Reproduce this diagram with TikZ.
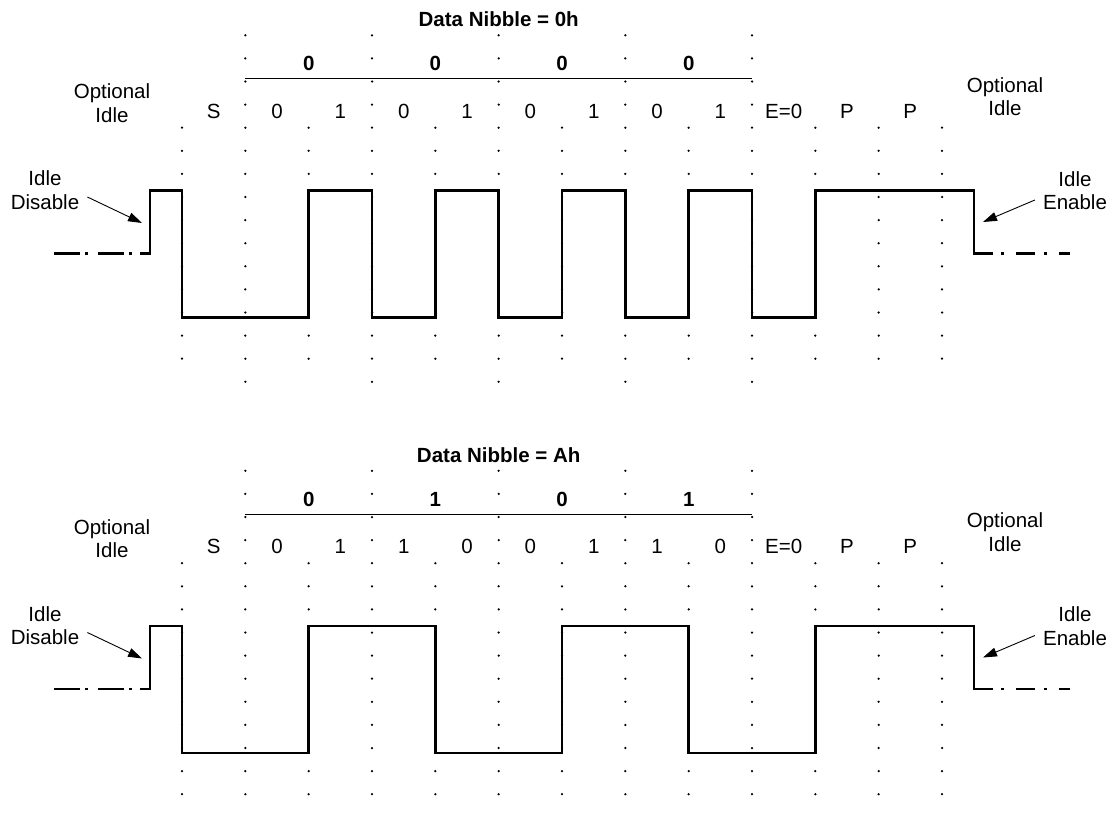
\documentclass[tikz,border=0pt]{standalone}
\usepackage{fontspec}
\setmainfont{Liberation Sans}
\usetikzlibrary{arrows.meta,calc}
\tikzset{
  sig/.style={line width=2.5pt, line join=miter},
  lbl/.style={font=\fontsize{20.5}{23.5}\selectfont, inner sep=0pt, align=center},
  bit/.style={font=\fontsize{20.5}{23.5}\selectfont, inner sep=0pt, anchor=base},
  nib/.style={font=\bfseries\fontsize{20.5}{23.5}\selectfont, inner sep=0pt, anchor=base},
  gdot/.style={fill=black},
  callout/.style={line width=0.9pt, -{Triangle[length=14pt,width=9pt]}},
  nibrule/.style={line width=1pt},
  idleL/.style={line width=2.5pt, dash pattern=on 26pt off 5pt on 3pt off 10pt},
  idleR/.style={line width=2.5pt, dash pattern=on 3pt off 12pt on 19pt off 9pt},
}
\begin{document}
\begin{tikzpicture}[x=1pt,y=-1pt]
\useasboundingbox (0,0) rectangle (1115,816);
\def\yHi{190.7}
\def\yId{253.5}
\def\yLo{317.3}
% grid of dots
\foreach \oy/\kmax in {0/15, 435.5/14} {
  \foreach \i in {1,3,5,7,9} {
    \foreach \k in {0,...,\kmax} {
      \fill[gdot] ({182+63.333*\i}, {\oy+35.3+23.1*\k}) circle (1.25);
    }
  }
  \foreach \i in {0,2,4,6,8,10,11,12} {
    \foreach \k in {4,...,14} {
      \fill[gdot] ({182+63.333*\i}, {\oy+35.3+23.1*\k}) circle (1.25);
    }
  }
}
% ---------------- upper diagram ----------------
\node[nib] (t1) at (498.7,26.7) {Data Nibble = 0h};
\node[nib] (n1a) at (308.7,70.5) {0};
\node[nib] (n1b) at (435.3,70.5) {0};
\node[nib] (n1c) at (562,70.5) {0};
\node[nib] (n1d) at (688.7,70.5) {0};
\draw[nibrule] (245.3,78.5) -- (752,78.5);
\node[bit] (b1s) at (213.7,118) {S};
\node[bit] (b1a) at (277,118) {0};
\node[bit] (b1b) at (340.3,118) {1};
\node[bit] (b1c) at (403.7,118) {0};
\node[bit] (b1d) at (467,118) {1};
\node[bit] (b1e) at (530.3,118) {0};
\node[bit] (b1f) at (593.7,118) {1};
\node[bit] (b1g) at (657,118) {0};
\node[bit] (b1h) at (720.3,118) {1};
\node[bit] (b1E) at (783.7,118) {E=0};
\node[bit] (b1p) at (847,118) {P};
\node[bit] (b1q) at (910.3,118) {P};
\node[lbl] (opl1) at (112,103) {Optional\\Idle};
\node[lbl] (opr1) at (1005,96.7) {Optional\\Idle};
\node[lbl] (dis1) at (45,190) {Idle\\Disable};
\node[lbl] (en1) at (1075,190.5) {Idle\\Enable};
\coordinate (tipL1) at (142,223);
\coordinate (tipR1) at (983,222);
\draw[callout] ($(dis1.east)+(8,7)$) -- (tipL1);
\draw[callout] ($(en1.west)+(-8,9.5)$) -- (tipR1);
\draw[idleL] (54,\yId) -- (140,\yId);
\draw[idleR] (1001,\yId) -- (1070,\yId);
\draw[sig] (140,\yId) -- (150,\yId) -- (150,\yHi) -- (182,\yHi) -- (182,\yLo)
  -- (308.7,\yLo) -- (308.7,\yHi) -- (372,\yHi) -- (372,\yLo)
  -- (435.3,\yLo) -- (435.3,\yHi) -- (498.7,\yHi) -- (498.7,\yLo)
  -- (562,\yLo) -- (562,\yHi) -- (625.3,\yHi) -- (625.3,\yLo)
  -- (688.7,\yLo) -- (688.7,\yHi) -- (752,\yHi) -- (752,\yLo)
  -- (815.3,\yLo) -- (815.3,\yHi) -- (974,\yHi) -- (974,\yId) -- (993,\yId);
% ---------------- lower diagram ----------------
\begin{scope}[shift={(0,435.5)}]
\node[nib] (t2) at (498.7,26.7) {Data Nibble = Ah};
\node[nib] (n2a) at (308.7,70.5) {0};
\node[nib] (n2b) at (435.3,70.5) {1};
\node[nib] (n2c) at (562,70.5) {0};
\node[nib] (n2d) at (688.7,70.5) {1};
\draw[nibrule] (245.3,78.5) -- (752,78.5);
\node[bit] (b2s) at (213.7,118) {S};
\node[bit] (b2a) at (277,118) {0};
\node[bit] (b2b) at (340.3,118) {1};
\node[bit] (b2c) at (403.7,118) {1};
\node[bit] (b2d) at (467,118) {0};
\node[bit] (b2e) at (530.3,118) {0};
\node[bit] (b2f) at (593.7,118) {1};
\node[bit] (b2g) at (657,118) {1};
\node[bit] (b2h) at (720.3,118) {0};
\node[bit] (b2E) at (783.7,118) {E=0};
\node[bit] (b2p) at (847,118) {P};
\node[bit] (b2q) at (910.3,118) {P};
\node[lbl] (opl2) at (112,103) {Optional\\Idle};
\node[lbl] (opr2) at (1005,96.7) {Optional\\Idle};
\node[lbl] (dis2) at (45,190) {Idle\\Disable};
\node[lbl] (en2) at (1075,190.5) {Idle\\Enable};
\coordinate (tipL2) at (142,223);
\coordinate (tipR2) at (983,222);
\draw[callout] ($(dis2.east)+(8,7)$) -- (tipL2);
\draw[callout] ($(en2.west)+(-8,9.5)$) -- (tipR2);
\draw[idleL] (54,\yId) -- (140,\yId);
\draw[idleR] (1001,\yId) -- (1070,\yId);
\draw[sig] (140,\yId) -- (150,\yId) -- (150,\yHi) -- (182,\yHi) -- (182,\yLo)
  -- (308.7,\yLo) -- (308.7,\yHi) -- (435.3,\yHi) -- (435.3,\yLo)
  -- (562,\yLo) -- (562,\yHi) -- (688.7,\yHi) -- (688.7,\yLo)
  -- (815.3,\yLo) -- (815.3,\yHi) -- (974,\yHi) -- (974,\yId) -- (993,\yId);
\end{scope}
\end{tikzpicture}
\end{document}
